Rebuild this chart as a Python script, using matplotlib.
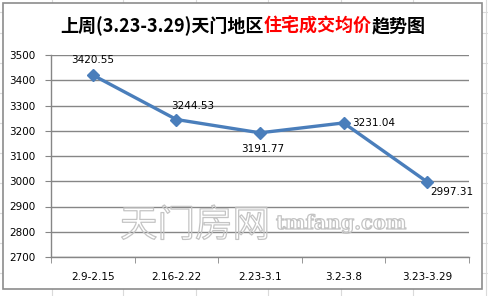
import matplotlib

matplotlib.use("Agg")
import matplotlib.pyplot as plt
import matplotlib.patheffects as pe
from matplotlib.patches import Rectangle
from matplotlib.lines import Line2D

plt.rcParams["font.family"] = ["DejaVu Sans", "Noto Sans CJK SC"]

weeks = ["2.9-2.15", "2.16-2.22", "2.23-3.1", "3.2-3.8", "3.23-3.29"]
prices = [3420.55, 3244.53, 3191.77, 3231.04, 2997.31]
# data label offsets (points) and alignment, per point
label_pos = [(0, 7, "center", "bottom"), (12, 6, "center", "bottom"),
             (2, -8, "center", "top"), (6, 0, "left", "center"),
             (2, -4, "left", "top")]
y_ticks = list(range(2700, 3501, 100))

W, H = 488, 296
fig = plt.figure(figsize=(W / 100, H / 100), dpi=100)

# faint worksheet grid behind the chart
for x in [52, 123, 196, 268, 341, 413, 486]:
    fig.add_artist(Line2D([x / W, x / W], [0, 1], color="#dadada", lw=0.8, zorder=-3))
for y in [12, 33, 63, 93, 123, 153, 183, 213, 243, 273]:
    fig.add_artist(Line2D([0, 1], [1 - y / H, 1 - y / H], color="#dadada", lw=0.8, zorder=-3))

# chart frame
fig.add_artist(Rectangle((3 / W, 1 - 289 / H), 479 / W, 286 / H, facecolor="white",
                         edgecolor="#8c8c8c", lw=1.2, transform=fig.transFigure, zorder=-2))

ax = fig.add_axes([51 / W, 1 - 257 / H, 418 / W, 202 / H])
ax.set_facecolor("none")

x = list(range(len(weeks)))
ax.plot(x, prices, color="#4a7ebb", lw=2.4, marker="D", markersize=6, zorder=3)

for xi, v, (dx, dy, ha, va) in zip(x, prices, label_pos):
    ax.annotate(f"{v:.2f}", (xi, v), xytext=(dx, dy), textcoords="offset points",
                ha=ha, va=va, fontsize=7.5, color="black")

ax.set_xlim(-0.5, len(weeks) - 0.5)
ax.set_ylim(2700, 3500)
ax.set_yticks(y_ticks)
ax.set_xticks(x)
ax.set_xticklabels(weeks)
ax.set_xticks([i - 0.5 for i in range(len(weeks) + 1)], minor=True)
ax.tick_params(axis="x", which="major", length=0, pad=11, labelsize=7.5)
ax.tick_params(axis="x", which="minor", length=4, color="#868686", direction="out")
ax.tick_params(axis="y", length=4.5, color="#868686", pad=7, labelsize=7.5)
ax.grid(axis="y", color="#868686", lw=1)
for side in ["top", "right"]:
    ax.spines[side].set_visible(False)
for side in ["left", "bottom"]:
    ax.spines[side].set_color("#868686")
    ax.spines[side].set_linewidth(1)

# watermark
wm = [pe.Stroke(linewidth=0.9, foreground="#c4c4c4")]
fig.text(120 / W, 1 - 226 / H, "天门房网", fontsize=27, family="Noto Sans CJK SC",
         color=(1, 1, 1, 0), va="center", ha="left", path_effects=wm)
fig.text(276 / W, 1 - 224 / H, "tmfang.com", fontsize=14, family="DejaVu Serif",
         weight="bold", color=(1, 1, 1, 0), va="center", ha="left", path_effects=wm)

# multi-colour title
parts = [("上周(3.23-3.29)天门地区", "black"), ("住宅成交均价", "#ff0000"), ("趋势图", "black")]
fig.canvas.draw()
r = fig.canvas.get_renderer()
texts = []
for s, c in parts:
    t = fig.text(0, 1 - 26 / H, s, fontsize=13, weight="bold", color=c,
                 family=["Noto Sans CJK SC"], va="center", ha="left")
    texts.append(t)
widths = [t.get_window_extent(r).width for t in texts]
xs = 243 - sum(widths) / 2
for t, w in zip(texts, widths):
    t.set_x(xs / W)
    xs += w

fig.savefig("out.png", dpi=100)
